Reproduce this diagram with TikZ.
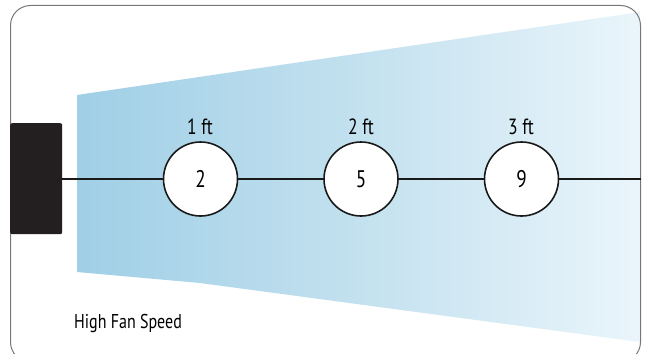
\documentclass[tikz,border=0pt]{standalone}
\usepackage{fontspec}
\setmainfont{PT Sans}[FakeStretch=0.8]
\definecolor{framegray}{HTML}{777777}
\definecolor{fanblack}{HTML}{231F20}
\definecolor{airL}{HTML}{A0CFE6}
\definecolor{airM}{HTML}{C3E1EF}
\definecolor{airR}{HTML}{EAF5FB}
\tikzset{
  meter/.style={circle, draw=black!90, line width=1.6pt, fill=white, minimum size=74pt, inner sep=0pt, font=\fontsize{24}{26}\selectfont},
  dist/.style={font=\fontsize{22}{24}\selectfont, inner sep=0pt},
  caption/.style={font=\fontsize{20}{22}\selectfont, inner sep=0pt, anchor=base west},
  wire/.style={line width=2.4pt, draw=black!90}
}
\begin{document}
\begin{tikzpicture}[x=1pt,y=-1pt]
\useasboundingbox (0,0) rectangle (647,353);
\fill[white] (0,0) rectangle (647,353);
% air stream
\begin{scope}
\clip (77,95) -- (640,12) -- (640,342) -- (200,283) -- (77,272) -- cycle;
\shade[left color=airL, right color=airR, middle color=airM] (77,0) rectangle (640,353);
\end{scope}
% frame
\begin{scope}
\clip (0,0) rectangle (647,353);
\draw[framegray, line width=1pt, rounded corners=20pt] (10.5,5.5) rectangle (640.5,362);
\end{scope}
% fan
\node[fill=fanblack, draw=none, rounded corners=2pt, minimum width=52pt, minimum height=111pt, inner sep=0pt, anchor=north west] (fan) at (10,123) {};
\coordinate (end) at (640.5,179);
\node[meter] (m1) at (200.5,179) {2};
\node[meter] (m2) at (361,179) {5};
\node[meter] (m3) at (521.5,179) {9};
\draw[wire] (fan.east |- m1) -- (m1.west);
\draw[wire] (m1.east) -- (m2.west);
\draw[wire] (m2.east) -- (m3.west);
\draw[wire] (m3.east) -- (end);
\node[dist] (d1) at (200,127) {1 ft};
\node[dist] (d2) at (361,127) {2 ft};
\node[dist] (d3) at (521,127) {3 ft};
\node[caption] (cap) at (74,328) {High Fan Speed};
\end{tikzpicture}
\end{document}
